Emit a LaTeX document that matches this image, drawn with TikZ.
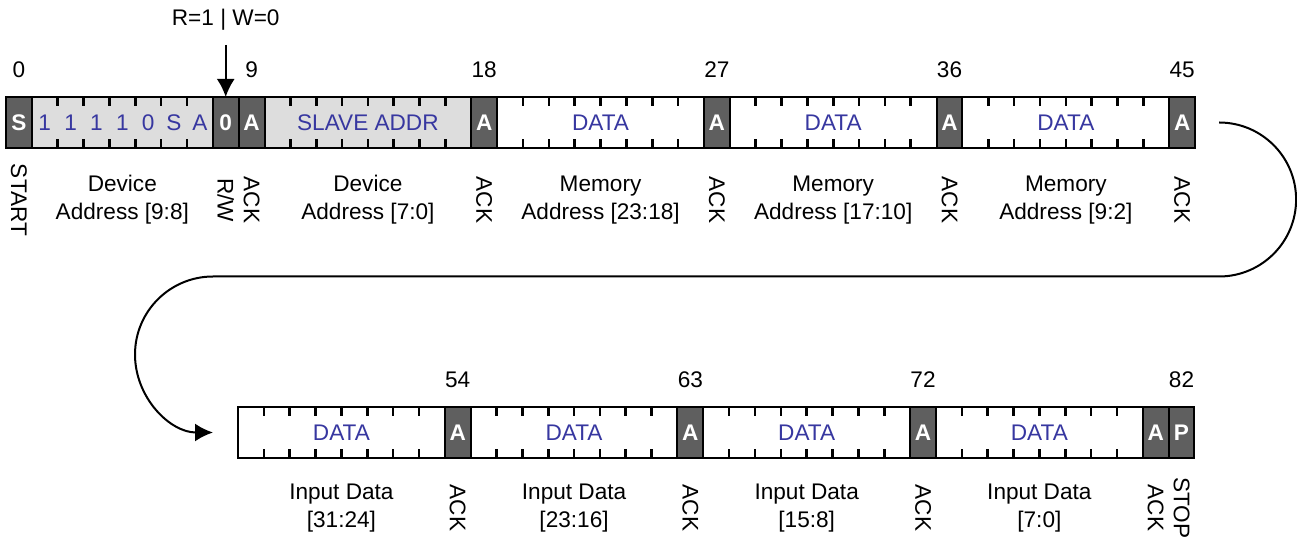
\documentclass[tikz,border=0pt]{standalone}
\usepackage{fontspec}
\setmainfont{Liberation Sans}
\usepackage{tikz}
\usetikzlibrary{arrows.meta,positioning}
\definecolor{ackgray}{RGB}{95,95,95}
\definecolor{addrgray}{RGB}{221,221,221}
\definecolor{fieldblue}{RGB}{55,55,160}
\newcommand{\bitw}{12.925pt}
\newcommand{\lblfont}{\fontsize{11.3}{14}\selectfont}

\begin{document}
\begin{tikzpicture}[x=0.5pt, y=-0.5pt, font=\lblfont,
    cell/.style={draw, line width=1pt, minimum height=25.5pt, inner sep=0, outer sep=0, anchor=west},
    ackcell/.style={cell, fill=ackgray, text=white, font=\lblfont\bfseries, minimum width=\bitw},
    addrcell/.style={cell, fill=addrgray, text=fieldblue},
    datacell/.style={cell, fill=white, text=fieldblue, minimum width=8*\bitw},
    tick/.style={line width=1.3pt},
    bitnum/.style={inner sep=0},
    desc/.style={align=center, inner sep=0},
    ackdesc/.style={rotate=-90, inner sep=0},
    ptr/.style={line width=1pt, -{Latex[length=9pt, width=9pt]}}]
    \useasboundingbox (0,0) rectangle (1297,544);
    % first frame
    \node[ackcell] (s0) at (6,122.5) {S};
    \node[addrcell, minimum width=7*\bitw, right=0pt of s0] (devhi) {};
    \foreach \c [count=\i] in {1,1,1,1,0,S,A}
    \node[text=fieldblue, inner sep=0] (devbit\i) at ([xshift=(\i-0.5)*\bitw]devhi.west) {\c};
    \node[ackcell, right=0pt of devhi] (rw) {0};
    \node[ackcell, right=0pt of rw] (ack9) {A};
    \node[addrcell, minimum width=8*\bitw, right=0pt of ack9] (devlo) {SLAVE ADDR};
    \node[ackcell, right=0pt of devlo] (ack18) {A};
    \node[datacell, right=0pt of ack18] (mem1) {DATA};
    \node[ackcell, right=0pt of mem1] (ack27) {A};
    \node[datacell, right=0pt of ack27] (mem2) {DATA};
    \node[ackcell, right=0pt of mem2] (ack36) {A};
    \node[datacell, right=0pt of ack36] (mem3) {DATA};
    \node[ackcell, right=0pt of mem3] (ack45) {A};
    % second frame
    \node[datacell] (in1) at (238,432.5) {DATA};
    \node[ackcell, right=0pt of in1] (ack54) {A};
    \node[datacell, right=0pt of ack54] (in2) {DATA};
    \node[ackcell, right=0pt of in2] (ack63) {A};
    \node[datacell, right=0pt of ack63] (in3) {DATA};
    \node[ackcell, right=0pt of in3] (ack72) {A};
    \node[datacell, right=0pt of ack72] (in4) {DATA};
    \node[ackcell, right=0pt of in4] (ack81) {A};
    \node[ackcell, right=0pt of ack81] (stop82) {P};
    % bit ticks
    \foreach \f/\n in {devhi/6, devlo/7, mem1/7, mem2/7, mem3/7, in1/7, in2/7, in3/7, in4/7}
    \foreach \k in {1,...,\n} {
      \draw[tick] ([xshift=\k*\bitw]\f.north west) -- ++(0,9);
      \draw[tick] ([xshift=\k*\bitw]\f.south west) -- ++(0,-9);
    }
    % bit numbers
    \foreach \c/\t in {s0/0, ack9/9, ack18/18, ack27/27, ack36/36, ack45/45}
    \node[bitnum, above=9.3pt of \c] (num\t) {\t};
    \foreach \c/\t in {ack54/54, ack63/63, ack72/72, stop82/82}
    \node[bitnum, above=9.5pt of \c] (num\t) {\t};
    % field names
    \node[ackdesc] (lblstart) at ([yshift=-26pt]s0.south) {START};
    \node[desc] (lbldevhi) at ([yshift=-26pt]devhi.south) {Device\\Address [9:8]};
    \node[ackdesc] (lblrw) at ([yshift=-26pt]rw.south) {R/W};
    \node[desc] (lbldevlo) at ([yshift=-26pt]devlo.south) {Device\\Address [7:0]};
    \node[desc] (lblmem1) at ([yshift=-26pt]mem1.south) {Memory\\Address [23:18]};
    \node[desc] (lblmem2) at ([yshift=-26pt]mem2.south) {Memory\\Address [17:10]};
    \node[desc] (lblmem3) at ([yshift=-26pt]mem3.south) {Memory\\Address [9:2]};
    \foreach \c in {ack9, ack18, ack27, ack36, ack45}
    \node[ackdesc] (lbl\c) at ([yshift=-26pt]\c.south) {ACK};
    \node[desc] (lblin1) at ([yshift=-25pt]in1.south) {Input Data\\{}[31:24]};
    \node[desc] (lblin2) at ([yshift=-25pt]in2.south) {Input Data\\{}[23:16]};
    \node[desc] (lblin3) at ([yshift=-25pt]in3.south) {Input Data\\{}[15:8]};
    \node[desc] (lblin4) at ([yshift=-25pt]in4.south) {Input Data\\{}[7:0]};
    \foreach \c in {ack54, ack63, ack72, ack81}
    \node[ackdesc] (lbl\c) at ([yshift=-25pt]\c.south) {ACK};
    \node[ackdesc] (lblstop) at ([yshift=-25pt]stop82.south) {STOP};
    % read/write pointer and wrap-around
    \node[bitnum, above=33pt of rw] (rwnote) {R=1 | W=0};
    \draw[ptr, shorten <=7pt] (rwnote.south) -- (rw.north);
    \draw[ptr] ([xshift=12pt]ack45.east) arc[start angle=90, end angle=-90, radius=38.5pt]
      -- ([xshift=-12.5pt, yshift=78pt]in1.west) arc[start angle=90, end angle=270, radius=39pt];
\end{tikzpicture}
\end{document}
